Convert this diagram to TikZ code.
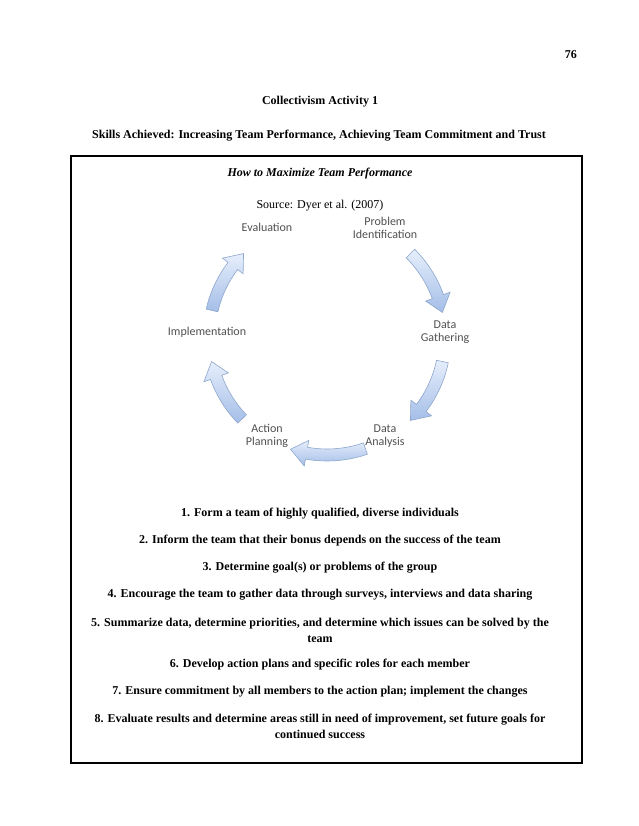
\documentclass[tikz,border=0pt]{standalone}
\usepackage{fontspec}
\setmainfont{Liberation Serif}
\newfontfamily\cyclefont{Carlito}
\definecolor{arrowlight}{HTML}{E6EEFB}
\definecolor{arrowblue}{HTML}{A4BEE8}
\definecolor{arrowedge}{HTML}{8DA6CC}
\definecolor{labelgray}{HTML}{505050}

% curved block arrow on the cycle, from angle #1 to angle #2
\newcommand{\cyclearrow}[2]{%
  \shade[top color=arrowlight, bottom color=arrowblue, draw=arrowedge, line width=0.6pt]
    (#1:112pt) arc[start angle=#1, end angle={#2+8}, radius=112pt]
    -- ({#2+8}:105pt) -- (#2:118pt) -- ({#2+8}:131pt) -- ({#2+8}:124pt)
    arc[start angle={#2+8}, end angle=#1, radius=124pt] -- cycle;
}

\tikzset{
  page text/.style={font=\fontsize{12}{16}\selectfont, inner sep=0pt},
  step label/.style={font=\cyclefont\fontsize{12}{13.5}\selectfont, text=labelgray, align=center, inner sep=0pt},
  list line/.style={font=\bfseries\fontsize{12}{16}\selectfont, align=center, inner sep=0pt},
}

\begin{document}
\begin{tikzpicture}[x=1pt, y=1pt]
  \useasboundingbox (0,0) rectangle (638,826);
  \node[list line, anchor=east] (page) at (577,771) {76};
  \node[list line] (title) at (320,724) {Collectivism Activity 1};
  \node[list line] (skills) at (319,690)
    {Skills Achieved: Increasing Team Performance, Achieving Team Commitment and Trust};
  \draw[line width=1.2pt] (71,63) rectangle (582,670);
  \node[list line, font=\bfseries\itshape\fontsize{12}{16}\selectfont] (head) at (320,652) {How to Maximize Team Performance};
  \node[page text] (source) at (320,620) {Source: Dyer et al. (2007)};

  % the cycle
  \begin{scope}[shift={(327,489)}]
    \cyclearrow{45}{12}
    \cyclearrow{-12}{-45}
    \cyclearrow{-71}{-108}
    \cyclearrow{-136}{-168}
    \cyclearrow{167}{135}
  \end{scope}
  \node[step label] (PI) at (385,598) {Problem\\Identification};
  \node[step label] (DG) at (445,494) {Data\\Gathering};
  \node[step label] (DA) at (385,390) {Data\\Analysis};
  \node[step label] (AP) at (267,390) {Action\\Planning};
  \node[step label] (IM) at (207,494) {Implementation};
  \node[step label] (EV) at (267,599) {Evaluation};

  % the steps
  \node[list line] (s1) at (320,312) {1. Form a team of highly qualified, diverse individuals};
  \node[list line] (s2) at (320,285) {2. Inform the team that their bonus depends on the success of the team};
  \node[list line] (s3) at (320,258) {3. Determine goal(s) or problems of the group};
  \node[list line] (s4) at (320,231) {4. Encourage the team to gather data through surveys, interviews and data sharing};
  \node[list line] (s5) at (320,196) {5. Summarize data, determine priorities, and determine which issues can be solved by the\\team};
  \node[list line] (s6) at (320,161) {6. Develop action plans and specific roles for each member};
  \node[list line] (s7) at (320,134) {7. Ensure commitment by all members to the action plan; implement the changes};
  \node[list line] (s8) at (320,100) {8. Evaluate results and determine areas still in need of improvement, set future goals for\\continued success};
\end{tikzpicture}
\end{document}
